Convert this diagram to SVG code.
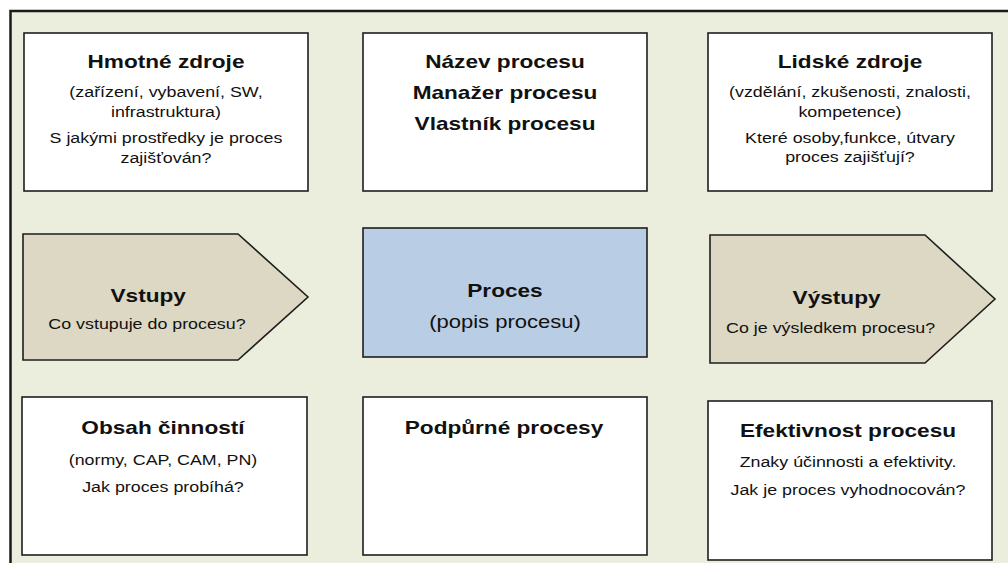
<svg xmlns="http://www.w3.org/2000/svg" width="1008" height="563" viewBox="0 0 1008 563">
<style>
.box{fill:#ffffff;stroke:#1e1e1e;stroke-width:1.6}
.arr{fill:#ddd8c3;stroke:#1e1e1e;stroke-width:1.6}
.proc{fill:#b9cde4;stroke:#1e1e1e;stroke-width:1.6}
text{font-family:"Liberation Sans",Arial,sans-serif;fill:#111;text-anchor:middle}
.t{font-size:19px;font-weight:bold}
.s{font-size:15px}
.p{font-size:18.5px}
</style>
<rect x="0" y="0" width="1008" height="563" fill="#ffffff"/>
<rect x="10.5" y="11" width="1010" height="600" fill="#ebeedd" stroke="#1a1a1a" stroke-width="2.5"/>
<g id="connectors"></g>
<g id="hmotne">
<rect class="box" x="24" y="33" width="284" height="158"/>
<g transform="translate(166 0) scale(1.19 1) translate(-166 0)">
<text class="t" x="166" y="68">Hmotné zdroje</text>
<text class="s" x="166" y="97">(zařízení, vybavení, SW,</text>
<text class="s" x="166" y="117">infrastruktura)</text>
<text class="s" x="166" y="143">S jakými prostředky je proces</text>
<text class="s" x="166" y="163">zajišťován?</text>
</g>
</g>
<g id="nazev">
<rect class="box" x="363" y="33" width="284" height="158"/>
<g transform="translate(505 0) scale(1.19 1) translate(-505 0)">
<text class="t" x="505" y="68">Název procesu</text>
<text class="t" x="505" y="99">Manažer procesu</text>
<text class="t" x="505" y="130">Vlastník procesu</text>
</g>
</g>
<g id="lidske">
<rect class="box" x="708" y="33" width="284" height="158"/>
<g transform="translate(850 0) scale(1.19 1) translate(-850 0)">
<text class="t" x="850" y="68">Lidské zdroje</text>
<text class="s" x="850" y="97">(vzdělání, zkušenosti, znalosti,</text>
<text class="s" x="850" y="117">kompetence)</text>
<text class="s" x="850" y="143">Které osoby,funkce, útvary</text>
<text class="s" x="850" y="162">proces zajišťují?</text>
</g>
</g>
<g id="vstupy">
<polygon class="arr" points="23,234 238,234 308,297 238,360 23,360"/>
<g transform="translate(147 0) scale(1.19 1) translate(-147 0)">
<text class="t" x="148" y="302">Vstupy</text>
<text class="s" x="147" y="329">Co vstupuje do procesu?</text>
</g>
</g>
<g id="proces">
<rect class="proc" x="363" y="228" width="284" height="129"/>
<g transform="translate(505 0) scale(1.19 1) translate(-505 0)">
<text class="t" x="505" y="297">Proces</text>
<text class="p" x="505" y="328">(popis procesu)</text>
</g>
</g>
<g id="vystupy">
<polygon class="arr" points="710,235 925,235 995,299 925,363 710,363"/>
<g transform="translate(833 0) scale(1.19 1) translate(-833 0)">
<text class="t" x="836" y="304">Výstupy</text>
<text class="s" x="831" y="333">Co je výsledkem procesu?</text>
</g>
</g>
<g id="obsah">
<rect class="box" x="22" y="397" width="285" height="158"/>
<g transform="translate(163 0) scale(1.19 1) translate(-163 0)">
<text class="t" x="163" y="434">Obsah činností</text>
<text class="s" x="163" y="465">(normy, CAP, CAM, PN)</text>
<text class="s" x="163" y="492">Jak proces probíhá?</text>
</g>
</g>
<g id="podpurne">
<rect class="box" x="363" y="397" width="284" height="158"/>
<g transform="translate(504 0) scale(1.19 1) translate(-504 0)">
<text class="t" x="504" y="434">Podpůrné procesy</text>
</g>
</g>
<g id="efektivnost">
<rect class="box" x="708" y="401" width="284" height="159"/>
<g transform="translate(848 0) scale(1.19 1) translate(-848 0)">
<text class="t" x="848" y="437">Efektivnost procesu</text>
<text class="s" x="848" y="467">Znaky účinnosti a efektivity.</text>
<text class="s" x="848" y="495">Jak je proces vyhodnocován?</text>
</g>
</g>
</svg>
